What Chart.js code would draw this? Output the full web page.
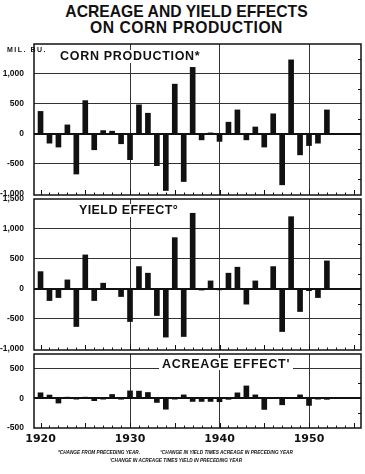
<!DOCTYPE html>
<html>
<head>
<meta charset="utf-8">
<script src="https://cdn.jsdelivr.net/npm/chart.js@4.4.0/dist/chart.umd.min.js"></script>
<style>
  body { margin: 0; width: 365px; height: 474px; background: #fff; position: relative; overflow: hidden;
         font-family: "Liberation Sans", Arial, sans-serif; font-weight: bold; color: #111; }
  canvas { position: absolute; left: 0; }
  .t { position: absolute; white-space: nowrap; line-height: 1; }
  .head { font-size: 15.7px; transform: translateX(-50%); }
  .panel { font-size: 12.5px; background: #fff; padding: 0 3px; }
  .note { font-size: 9.4px; font-style: italic; transform: scale(0.5); transform-origin: 0 0; }
</style>
</head>
<body>
<canvas id="prodChart" width="365" height="167" style="top:36px"></canvas>
<canvas id="yieldChart" width="365" height="167" style="top:191px"></canvas>
<canvas id="acreChart" width="365" height="102" style="top:346px"></canvas>

<div class="t head" style="left:186.5px; top:3.7px">ACREAGE AND YIELD EFFECTS</div>
<div class="t head" style="left:186.5px; top:19.7px; letter-spacing:0.5px">ON CORN PRODUCTION</div>
<div class="t" style="left:7px; top:45.8px; font-size:7px; letter-spacing:1.5px">MIL. BU.</div>
<div class="t panel" style="left:57px; top:50.1px; letter-spacing:0.7px">CORN PRODUCTION*</div>
<div class="t panel" style="left:76px; top:204.4px; letter-spacing:0.4px">YIELD EFFECT°</div>
<div class="t panel" style="left:159px; top:357.7px; letter-spacing:0.7px">ACREAGE EFFECT'</div>
<div class="t note" style="left:58px; top:450.4px">*CHANGE FROM PRECEDING YEAR.</div>
<div class="t note" style="left:160px; top:450.4px">°CHANGE IN YIELD TIMES ACREAGE IN PRECEDING YEAR</div>
<div class="t note" style="left:110px; top:457.7px">'CHANGE IN ACREAGE TIMES YIELD IN PRECEDING YEAR</div>

<script>
// --- data (million bushels) ---
const years = [1920, 1921, 1922, 1923, 1924, 1925, 1926, 1927, 1928, 1929, 1930,
  1931, 1932, 1933, 1934, 1935, 1936, 1937, 1938, 1939, 1940,
  1941, 1942, 1943, 1944, 1945, 1946, 1947, 1948, 1949, 1950, 1951, 1952];
const production = [375, -155, -220, 150, -670, 555, -265, 55, 45, -165, -430,
  485, 345, -530, -945, 830, -795, 1110, -100, 10, -125,
  195, 400, -100, 115, -220, 335, -850, 1235, -350, -195, -155, 400];
const yieldEffect = [288, -195, -145, 150, -628, 567, -195, 95, 0, -128, -545,
  372, 262, -445, -805, 855, -795, 1262, -20, 133, -10,
  262, 362, -255, 133, 0, 372, -712, 1205, -378, -30, -145, 467];
const acreageEffect = [90, 52, -82, 10, -8, 10, -42, -10, 62, -18, 122,
  118, 95, -72, -185, -15, 55, -55, -55, -55, -60,
  -20, 89, 205, 55, -189, 0, -111, 0, 55, -122, -10, -20];

const prodTicks = [-1000, -500, 0, 500, 1000];
const yieldTicks = [-1000, -500, 0, 500, 1000, 1500];
const acreTicks = [-500, 0, 500];
const yearTicks = [1920, 1930, 1940, 1950];

const INK = '#111';
const NONE = 'rgba(0,0,0,0)';
const fmt = v => v.toLocaleString('en-US');

// panel frame, year ticks along the bottom, small ticks on the right edge
const framePlugin = {
  id: 'frame',
  afterDatasetsDraw(chart) {
    const {ctx, chartArea: a, scales: {x, y}} = chart;
    ctx.save();
    ctx.strokeStyle = INK;
    ctx.lineWidth = 1;
    ctx.beginPath();
    for (let yr = 1920; yr <= 1955; yr++) {
      const px = Math.round(x.getPixelForValue(yr)) + 0.5;
      ctx.moveTo(px, a.bottom);
      ctx.lineTo(px, a.bottom - (yr % 5 === 0 ? 5 : 2.5));
    }
    for (let v = -750; v <= 1250; v += 500) {
      if (v <= y.min || v >= y.max) continue;
      const py = Math.round(y.getPixelForValue(v)) + 0.5;
      ctx.moveTo(a.right, py);
      ctx.lineTo(a.right - 3, py);
    }
    ctx.stroke();
    ctx.lineWidth = 1.5;
    ctx.strokeRect(a.left, a.top, a.right - a.left, a.bottom - a.top);
    ctx.restore();
  }
};

function makePanel(id, values, tickVals, yMin, yMax, showYears, bottomPad) {
  const ctx = document.getElementById(id).getContext('2d');
  return new Chart(ctx, {
    type: 'bar',
    data: {
      datasets: [{
        data: years.map((yr, i) => ({x: yr, y: values[i]})),
        backgroundColor: INK,
        barThickness: 5
      }]
    },
    options: {
      responsive: false,
      animation: false,
      devicePixelRatio: 1,
      layout: {padding: {left: 0, right: 4, top: 8, bottom: bottomPad}},
      plugins: {legend: {display: false}, tooltip: {enabled: false}},
      scales: {
        x: {
          type: 'linear',
          min: 1919.27,
          max: 1955.81,
          offset: false,
          afterBuildTicks: s => { s.ticks = yearTicks.map(v => ({value: v})); },
          border: {display: false},
          grid: {
            offset: false,
            drawTicks: showYears,
            tickLength: 5,
            tickColor: NONE,
            color: c => (c.tick && c.tick.value === 1920) ? NONE : '#333',
            lineWidth: 1
          },
          ticks: {
            display: showYears,
            padding: 0,
            maxRotation: 0,
            autoSkip: false,
            color: INK,
            font: {family: '"DejaVu Sans", sans-serif', weight: 'bold', size: 11},
            callback: v => String(v)
          }
        },
        y: {
          min: yMin,
          max: yMax,
          afterBuildTicks: s => { s.ticks = tickVals.map(v => ({value: v})); },
          afterFit: s => { s.width = 34; },
          border: {display: false},
          grid: {
            drawTicks: true,
            tickLength: 10,
            tickColor: NONE,
            color: c => {
              const v = c.tick ? c.tick.value : null;
              if (v === 0) return INK;
              if (v === tickVals[0] || v === 1500) return NONE;
              return '#333';
            },
            lineWidth: c => (c.tick && c.tick.value === 0) ? 2 : 1
          },
          ticks: {
            padding: 0,
            color: INK,
            font: {family: '"Liberation Sans", sans-serif', weight: 'bold', size: 8.5},
            callback: v => fmt(v)
          }
        }
      }
    },
    plugins: [framePlugin]
  });
}

document.addEventListener('DOMContentLoaded', function() {
  makePanel('prodChart', production, prodTicks, -1020, 1500, false, 8);
  makePanel('yieldChart', yieldEffect, yieldTicks, -1020, 1500, false, 8);
  makePanel('acreChart', acreageEffect, acreTicks, -500, 740, true, 1.8);
});
</script>
</body>
</html>
